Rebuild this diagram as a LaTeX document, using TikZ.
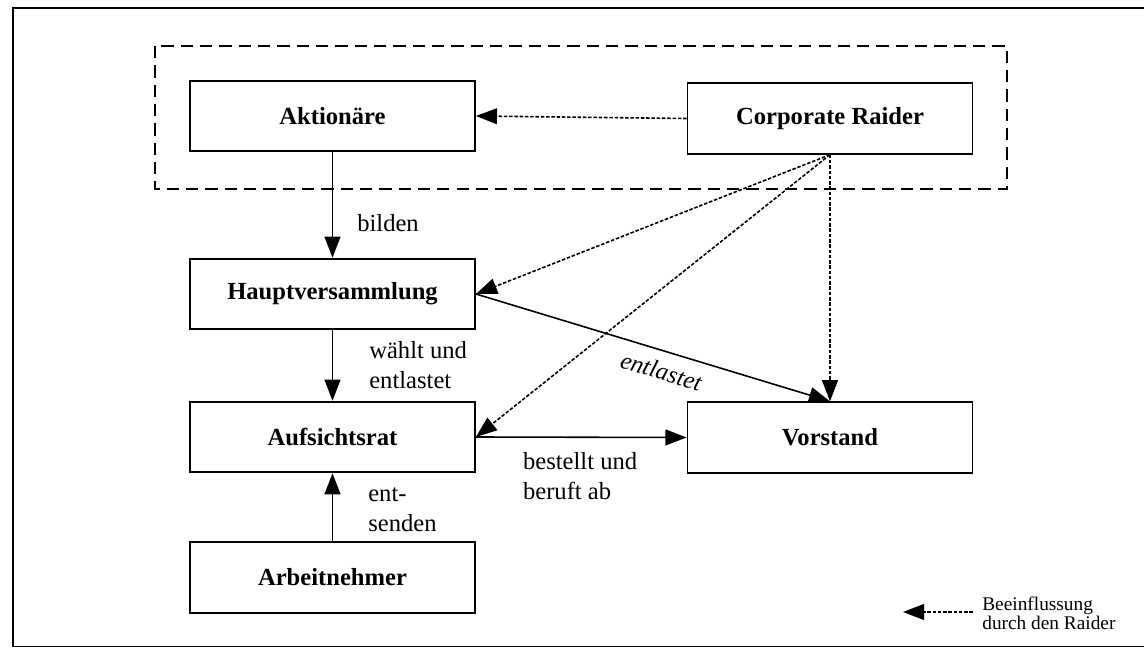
\documentclass[tikz,border=0pt]{standalone}
\usepackage{fontspec}
\setmainfont{Liberation Serif}
\usetikzlibrary{arrows.meta}
\begin{document}
\begin{tikzpicture}[x=0.02cm, y=-0.02cm,
    organ/.style={draw, line width=1.1pt, minimum width=5.7cm, minimum height=1.41cm,
                  font=\fontsize{14}{17}\selectfont\bfseries},
    arr/.style={line width=0.9pt, -{Triangle[length=12pt,width=9pt]}},
    raid/.style={arr, dash pattern=on 2pt off 1pt},
    lbl/.style={font=\fontsize{14}{17}\selectfont, align=left, inner sep=0pt}]
    \useasboundingbox (0,0) rectangle (1144,648);
    % outer frame (open at the right)
    \draw[line width=0.8pt] (1144,8) -- (13,8) -- (13,646.5) -- (1144,646.5);
    % group of the shareholders and the raider
    \draw[line width=1.2pt, dash pattern=on 7pt off 4pt] (155,46) rectangle (1007,189);

    \node[organ] (akt) at (332.5,116) {Aktionäre};
    \node[organ] (raider) at (830,118.5) {Corporate Raider};
    \node[organ] (haupt) at (332.5,294) {Hauptversammlung};
    \node[organ] (aufs) at (332.5,437) {Aufsichtsrat};
    \node[organ] (vorst) at (830,437.5) {Vorstand};
    \node[organ] (arb) at (332.5,577.5) {Arbeitnehmer};

    % formal relations
    \draw[arr] (akt) -- node[lbl, anchor=west, pos=0.67, xshift=0.48cm] {bilden} (haupt);
    \draw[arr] (haupt) -- node[lbl, anchor=west, pos=0.5, xshift=0.72cm] {wählt und\\entlastet} (aufs);
    \draw[arr] (arb) -- node[lbl, anchor=west, pos=0.46, xshift=0.7cm] {ent-\\senden} (aufs);
    \draw[arr] (aufs.east) -- node[lbl, anchor=north west, pos=0.22, yshift=-0.3cm] {bestellt und\\beruft ab} (vorst.west);
    \draw[arr] (haupt.east) -- node[sloped, below, pos=0.54, inner sep=6pt,
        font=\fontsize{14}{17}\selectfont\itshape] {entlastet} (vorst.north);

    % influence of the raider
    \draw[raid] (raider.west) -- (akt.east);
    \draw[raid] (raider.south) -- (haupt.east);
    \draw[raid] (raider.south) -- (aufs.east);
    \draw[raid] (raider.south) -- (vorst.north);

    % legend
    \coordinate (legfrom) at (973,612);
    \coordinate (legto) at (903,612);
    \draw[raid] (legfrom) -- (legto);
    \node[font=\fontsize{11}{10}\selectfont, align=left, anchor=west, inner sep=0pt] (leg) at (982,613)
        {Beeinflussung\\durch den Raider};
\end{tikzpicture}
\end{document}
